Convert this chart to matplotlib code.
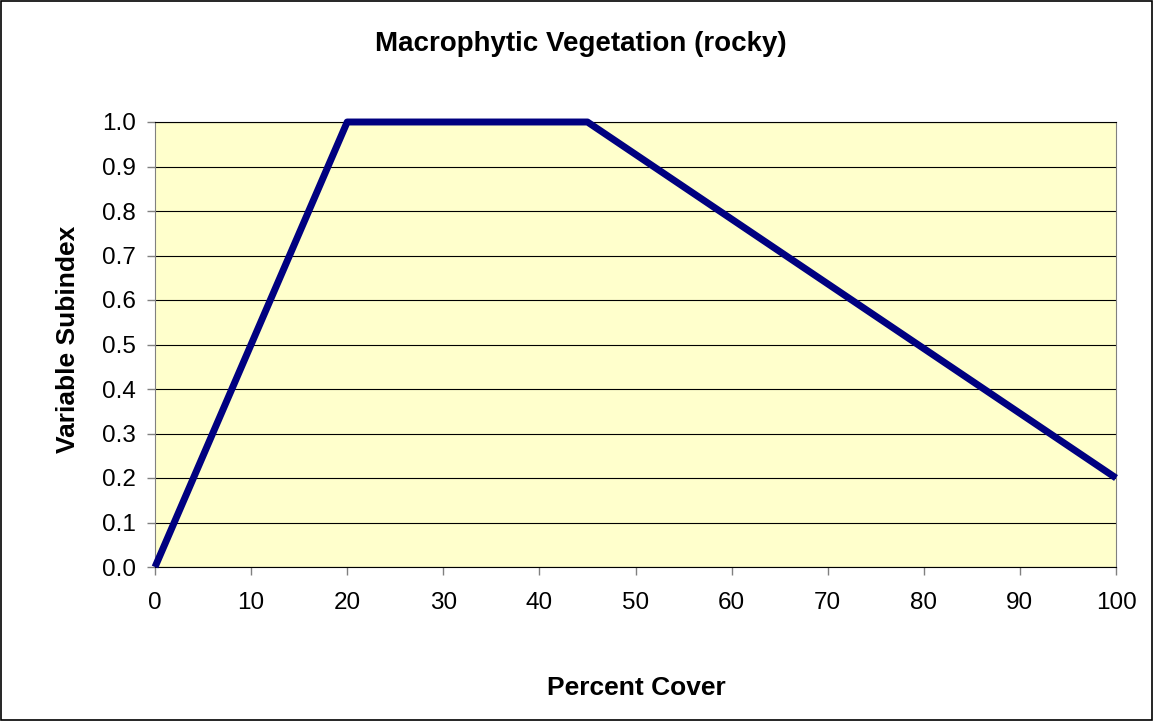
import matplotlib.pyplot as plt
from matplotlib.patches import Rectangle

plt.rcParams['font.family'] = ['Liberation Sans', 'DejaVu Sans']

# data
percent_cover = [0, 20, 45, 100]
subindex = [0.0, 1.0, 1.0, 0.2]
x_ticks = list(range(0, 101, 10))
y_ticks = [i / 10 for i in range(0, 11)]

W, H = 1153, 721
fig = plt.figure(figsize=(W / 100, H / 100), dpi=100)
ax = fig.add_axes([155 / W, (H - 567) / H, 961 / W, 445 / H])
ax.set_facecolor('#FFFFCC')

ax.plot(percent_cover, subindex, color='#000080', linewidth=5, solid_capstyle='butt', zorder=3, clip_on=False)

ax.set_xlim(0, 100)
ax.set_ylim(0, 1.0)
ax.set_xticks(x_ticks)
ax.set_yticks(y_ticks)
ax.set_yticklabels([f"{v:.1f}" for v in y_ticks])
ax.grid(axis='y', color='black', linewidth=0.8)
ax.set_axisbelow(True)

ax.tick_params(axis='both', direction='out', length=6, width=1, labelsize=17.5, color='gray')
ax.tick_params(axis='x', pad=12)
ax.tick_params(axis='y', pad=8)

ax.spines['left'].set_color('gray')
ax.spines['right'].set_color('gray')
ax.spines['top'].set_color('black')
ax.spines['bottom'].set_color('black')

# titles placed in figure pixels
fig.text(581 / W, 1 - 44 / H, "Macrophytic Vegetation (rocky)", fontsize=20,
         fontweight='bold', ha='center', va='center')
fig.text(636 / W, 1 - 688 / H, "Percent Cover", fontsize=19,
         fontweight='bold', ha='center', va='center')
fig.text(68 / W, 1 - 339 / H, "Variable Subindex", fontsize=19,
         fontweight='bold', ha='center', va='center', rotation=90)

fig.patches.append(Rectangle((0.001, 0.001), 0.998, 0.998, transform=fig.transFigure,
                             fill=False, edgecolor='black', linewidth=1.2))

fig.savefig("out.png", dpi=100)
